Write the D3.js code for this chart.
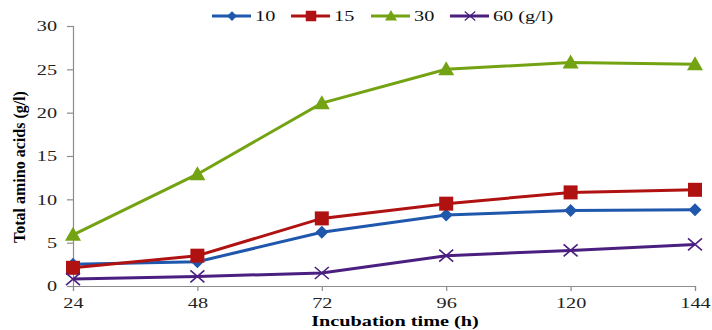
<!DOCTYPE html>
<html>
<head>
<meta charset="utf-8">
<script src="https://cdn.jsdelivr.net/npm/d3@7"></script>
<style>
  body { margin: 0; background: #fff; }
  text { font-family: "Liberation Serif", "DejaVu Serif", serif; }
</style>
</head>
<body>
<div id="chart"></div>
<script>
/* DATA */
const hours = [24, 48, 72, 96, 120, 144];
const s10 = [2.5, 2.8, 6.2, 8.2, 8.7, 8.8];
const s15 = [2.1, 3.5, 7.8, 9.5, 10.8, 11.1];
const s30 = [5.9, 12.9, 21.1, 25.0, 25.8, 25.6];
const s60 = [0.8, 1.1, 1.5, 3.5, 4.1, 4.8];
const seriesNames = ["10", "15", "30", "60 (g/l)"];
const yTicks = [0, 5, 10, 15, 20, 25, 30];

const width = 712, height = 330,
  margin = { top: 26, bottom: 44, left: 73, right: 17 },
  stretch = 1.35; // the original picture is widened sideways

const series = [
  { name: seriesNames[0], values: s10, color: "#1f57ad", marker: "diamond" },
  { name: seriesNames[1], values: s15, color: "#b01212", marker: "square" },
  { name: seriesNames[2], values: s30, color: "#73a312", marker: "triangle" },
  { name: seriesNames[3], values: s60, color: "#4a1f80", marker: "cross" }
];

// widen a horizontal text like the reference
function widen(sel) {
  sel.each(function() {
    const len = this.getComputedTextLength();
    d3.select(this)
      .attr("textLength", len * stretch)
      .attr("lengthAdjust", "spacingAndGlyphs");
  });
}

const svg = d3.select("#chart").append("svg")
  .attr("width", width).attr("height", height);

const xScale = d3.scalePoint()
  .domain(hours)
  .range([margin.left, width - margin.right]);

const yScale = d3.scaleLinear()
  .domain([0, 30])
  .range([height - margin.bottom, margin.top]);

// axes
const xAxis = svg.append("g")
  .attr("transform", `translate(0,${height - margin.bottom})`)
  .call(d3.axisBottom(xScale).tickSize(5).tickPadding(6));
const yAxis = svg.append("g")
  .attr("transform", `translate(${margin.left},0)`)
  .call(d3.axisLeft(yScale).tickValues(yTicks).tickSize(6).tickPadding(10));

[xAxis, yAxis].forEach(a => {
  a.select(".domain").attr("stroke", "#8c8c8c").attr("stroke-width", 1.2);
  a.selectAll(".tick line").attr("stroke", "#8c8c8c").attr("stroke-width", 1.2);
  a.selectAll(".tick text")
    .attr("fill", "#222")
    .style("font-size", "15px")
    .style("font-family", "'Liberation Serif', serif")
    .call(widen);
});

// axis labels
svg.append("text")
  .attr("x", 395).attr("y", 326)
  .attr("text-anchor", "middle")
  .attr("font-weight", "bold")
  .style("font-size", "15px")
  .text("Incubation time (h)")
  .call(widen);

svg.append("text")
  .attr("transform", `translate(25,167) rotate(-90)`)
  .attr("text-anchor", "middle")
  .attr("font-weight", "bold")
  .style("font-size", "16px")
  .text("Total amino acids (g/l)");

// markers
function drawMarker(g, type, color) {
  if (type === "diamond") {
    g.append("path").attr("d", "M0,-6.5L6.5,0L0,6.5L-6.5,0Z").attr("fill", color);
  } else if (type === "square") {
    g.append("rect").attr("x", -7).attr("y", -7).attr("width", 14).attr("height", 14).attr("fill", color);
  } else if (type === "triangle") {
    g.append("path").attr("d", "M0,-8L8,6L-8,6Z").attr("fill", color);
  } else {
    g.append("path").attr("d", "M-7,-6L7,6M-7,6L7,-6")
      .attr("stroke", color).attr("stroke-width", 1.6).attr("fill", "none");
  }
}

const line = d3.line()
  .x((d, i) => xScale(hours[i]))
  .y(d => yScale(d));

series.forEach(s => {
  svg.append("path")
    .datum(s.values)
    .attr("d", line)
    .attr("fill", "none")
    .attr("stroke", s.color)
    .attr("stroke-width", 3);
  s.values.forEach((v, i) => {
    const g = svg.append("g")
      .attr("transform", `translate(${xScale(hours[i])},${yScale(v)})`);
    drawMarker(g, s.marker, s.color);
  });
});

// legend
const legendX = [212, 291, 371, 450];
series.forEach((s, i) => {
  const g = svg.append("g").attr("transform", `translate(${legendX[i]},16)`);
  g.append("line").attr("x1", 0).attr("x2", 39).attr("y1", 0).attr("y2", 0)
    .attr("stroke", s.color).attr("stroke-width", 3);
  const m = g.append("g").attr("transform", "translate(20,0) scale(0.75)");
  drawMarker(m, s.marker, s.color);
  g.append("text").attr("x", 43).attr("y", 5)
    .style("font-size", "15px").attr("fill", "#111")
    .text(s.name)
    .call(widen);
});
</script>
</body>
</html>
